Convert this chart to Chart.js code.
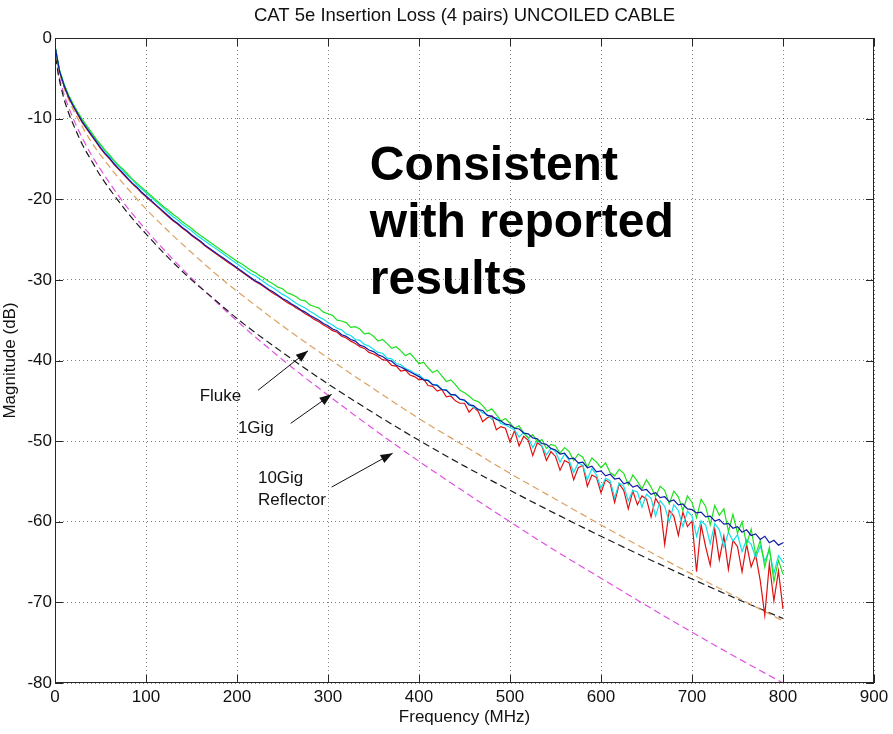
<!DOCTYPE html>
<html>
<head>
<meta charset="utf-8">
<script src="https://cdn.jsdelivr.net/npm/chart.js@4.4.1/dist/chart.umd.min.js"></script>
<style>
html,body{margin:0;padding:0;background:#fff}
</style>
</head>
<body>
<canvas id="lossChart" width="893" height="734"></canvas>
<script>
// measured frequency points (MHz)
const freqMHz=[
0,5,10,15,20,25,30,35,40,45,
50,55,60,65,70,75,80,85,90,95,
100,105,110,115,120,125,130,135,140,145,
150,155,160,165,170,175,180,185,190,195,
200,205,210,215,220,225,230,235,240,245,
250,255,260,265,270,275,280,285,290,295,
300,305,310,315,320,325,330,335,340,345,
350,355,360,365,370,375,380,385,390,395,
400,405,410,415,420,425,430,435,440,445,
450,455,460,465,470,475,480,485,490,495,
500,505,510,515,520,525,530,535,540,545,
550,555,560,565,570,575,580,585,590,595,
600,605,610,615,620,625,630,635,640,645,
650,655,660,665,670,675,680,685,690,695,
700,705,710,715,720,725,730,735,740,745,
750,755,760,765,770,775,780,785,790,795,
800]

const pairBlue=[
-1.0,-4.1,-5.9,-7.3,-8.4,-9.4,-10.4,-11.2,-12.0,-12.8,
-13.6,-14.3,-14.9,-15.6,-16.2,-16.8,-17.4,-18.0,-18.5,-19.1,
-19.6,-20.1,-20.6,-21.1,-21.6,-22.1,-22.6,-23.0,-23.5,-23.9,
-24.4,-24.8,-25.2,-25.7,-26.1,-26.5,-26.9,-27.3,-27.7,-28.1,
-28.5,-28.9,-29.3,-29.7,-30.1,-30.4,-30.8,-31.2,-31.5,-31.9,
-32.3,-32.6,-33.0,-33.3,-33.7,-34.0,-34.4,-34.7,-35.0,-35.4,
-35.7,-36.1,-36.3,-36.8,-37.0,-37.4,-37.6,-38.1,-38.3,-38.7,
-38.9,-39.3,-39.5,-39.9,-40.1,-40.6,-40.8,-41.1,-41.4,-41.7,
-42.0,-42.4,-42.5,-43.0,-43.1,-43.6,-43.7,-44.2,-44.3,-44.8,
-44.9,-45.5,-45.6,-46.1,-46.2,-46.8,-46.9,-47.3,-47.5,-47.9,
-48.0,-48.4,-48.5,-49.0,-49.1,-49.6,-49.7,-50.3,-50.4,-50.9,
-51.1,-51.6,-51.5,-52.2,-52.1,-52.7,-52.6,-53.3,-53.1,-53.8,
-53.7,-54.3,-54.1,-54.7,-54.6,-55.3,-55.1,-55.7,-55.5,-56.1,
-56.0,-56.6,-56.4,-57.0,-56.9,-57.5,-57.3,-57.9,-57.8,-58.4,
-58.5,-58.9,-58.8,-59.4,-59.3,-59.9,-59.7,-60.3,-60.2,-60.8,
-60.6,-61.3,-61.0,-61.7,-61.5,-62.2,-61.8,-62.6,-62.3,-62.9,
-62.6]

const pairGreen=[
-1.0,-4.0,-5.7,-7.1,-8.2,-9.2,-10.1,-10.9,-11.7,-12.5,
-13.2,-13.9,-14.5,-15.2,-15.8,-16.3,-16.9,-17.5,-18.0,-18.5,
-19.0,-19.5,-20.0,-20.5,-21.0,-21.4,-21.9,-22.3,-22.8,-23.2,
-23.6,-24.1,-24.5,-24.9,-25.3,-25.7,-26.1,-26.5,-26.9,-27.3,
-27.7,-28.0,-28.4,-28.8,-29.1,-29.5,-29.8,-30.2,-30.5,-30.9,
-31.1,-31.6,-31.8,-32.1,-32.5,-32.6,-33.1,-33.3,-33.5,-34.0,
-34.2,-34.4,-35.0,-35.1,-35.3,-35.9,-35.8,-36.1,-36.7,-36.6,
-37.0,-37.6,-37.4,-37.9,-38.5,-38.3,-38.8,-39.4,-39.1,-39.7,
-40.4,-40.2,-40.9,-41.5,-41.2,-41.9,-42.6,-42.4,-43.0,-43.7,
-44.0,-44.4,-44.9,-45.1,-45.6,-46.3,-46.0,-46.7,-47.5,-47.2,
-47.8,-48.4,-48.1,-49.0,-49.6,-49.2,-50.1,-49.8,-50.9,-50.4,
-50.6,-51.5,-50.8,-51.3,-52.4,-51.6,-52.0,-53.2,-52.1,-52.6,
-53.3,-52.7,-53.9,-54.3,-53.5,-54.0,-55.4,-54.2,-55.0,-55.9,
-54.8,-55.7,-56.9,-55.6,-56.1,-57.8,-56.2,-56.9,-58.6,-56.8,
-57.6,-59.5,-57.2,-58.1,-60.4,-58.0,-59.2,-58.4,-61.2,-59.1,
-61.4,-60.0,-62.8,-60.9,-64.1,-62.3,-65.6,-63.2,-67.4,-64.8,
-66.5]

const pairCyan=[
-1.0,-4.0,-5.8,-7.2,-8.3,-9.3,-10.2,-11.0,-11.8,-12.6,
-13.3,-14.0,-14.7,-15.3,-15.9,-16.5,-17.1,-17.6,-18.2,-18.7,
-19.2,-19.7,-20.2,-20.7,-21.2,-21.7,-22.2,-22.6,-23.1,-23.5,
-23.9,-24.4,-24.8,-25.2,-25.6,-26.0,-26.4,-26.8,-27.2,-27.6,
-28.0,-28.4,-28.8,-29.2,-29.5,-29.9,-30.3,-30.7,-31.0,-31.4,
-31.8,-32.1,-32.5,-32.9,-33.2,-33.5,-33.9,-34.2,-34.6,-34.9,
-35.3,-35.6,-36.0,-36.2,-36.7,-36.9,-37.4,-37.5,-38.0,-38.2,
-38.6,-39.0,-39.1,-39.7,-39.8,-40.4,-40.5,-41.0,-41.2,-41.6,
-41.8,-42.3,-42.4,-43.0,-43.0,-43.6,-43.6,-44.3,-44.2,-44.8,
-45.0,-45.3,-45.9,-46.0,-46.5,-46.7,-47.3,-47.1,-47.8,-48.0,
-48.3,-48.6,-49.5,-48.9,-49.6,-50.8,-49.8,-50.6,-51.7,-50.9,
-51.3,-52.6,-51.6,-52.4,-53.9,-52.7,-53.0,-54.8,-53.4,-54.2,
-55.8,-54.6,-54.9,-57.0,-55.2,-55.6,-57.4,-56.1,-56.3,-58.2,
-56.6,-57.1,-59.3,-57.4,-58.1,-60.0,-57.9,-58.6,-60.6,-58.7,
-59.3,-61.8,-59.9,-60.4,-62.7,-60.2,-61.0,-63.1,-61.3,-62.4,
-61.6,-63.7,-62.2,-62.8,-64.5,-63.0,-64.9,-63.5,-66.4,-64.2,
-65.0]

const pairRed=[
-1.0,-4.2,-6.0,-7.4,-8.5,-9.5,-10.5,-11.3,-12.1,-12.9,
-13.7,-14.4,-15.0,-15.7,-16.3,-16.9,-17.5,-18.1,-18.6,-19.2,
-19.7,-20.2,-20.7,-21.2,-21.7,-22.2,-22.7,-23.1,-23.6,-24.0,
-24.5,-24.9,-25.3,-25.8,-26.2,-26.6,-27.0,-27.4,-27.8,-28.2,
-28.6,-29.0,-29.4,-29.8,-30.2,-30.5,-30.9,-31.3,-31.7,-32.0,
-32.4,-32.8,-33.1,-33.5,-33.8,-34.2,-34.5,-34.9,-35.2,-35.6,
-35.9,-36.3,-36.5,-37.0,-37.2,-37.6,-37.9,-38.3,-38.5,-39.0,
-39.2,-39.5,-39.9,-40.0,-40.6,-40.7,-41.3,-41.2,-41.8,-42.0,
-42.4,-42.3,-43.1,-43.2,-43.8,-43.6,-44.5,-44.4,-45.0,-45.3,
-45.3,-46.4,-45.8,-46.3,-47.6,-47.1,-46.9,-48.6,-48.2,-48.4,
-50.1,-48.7,-50.6,-49.4,-49.9,-51.8,-50.2,-50.6,-52.4,-51.3,
-51.9,-53.6,-52.4,-52.7,-54.8,-53.3,-53.0,-55.6,-54.2,-54.5,
-56.4,-54.8,-55.2,-57.6,-55.3,-56.1,-58.4,-56.2,-57.9,-56.8,
-57.2,-59.4,-57.1,-58.0,-62.8,-58.6,-59.3,-61.7,-58.8,-60.6,
-59.9,-66.2,-60.4,-63.1,-65.4,-60.9,-64.7,-61.8,-65.9,-62.3,
-63.1,-66.2,-62.8,-65.6,-64.1,-67.3,-71.6,-65.2,-69.8,-66.1,
-70.8]

// model / reference curves (dashed)
const refFreqMHz=[1,3,6,10,15,20,30,40,50,65,80,100,125,150,175,200,250,300,350,400,450,500,550,600,650,700,750,800]
const flukeCurve=[-1.9,-3.3,-4.7,-6.2,-7.6,-8.9,-11.0,-12.9,-14.5,-16.7,-18.7,-21.2,-24.0,-26.6,-29.1,-31.4,-35.7,-39.7,-43.5,-47.2,-50.6,-54.0,-57.2,-60.4,-63.5,-66.5,-69.4,-72.3]
const oneGigCurve=[-2.4,-4.1,-5.8,-7.6,-9.3,-10.7,-13.2,-15.2,-17.1,-19.5,-21.7,-24.3,-27.3,-30.0,-32.4,-34.8,-39.0,-42.9,-46.5,-49.9,-53.1,-56.1,-59.0,-61.8,-64.5,-67.1,-69.6,-72.0]
const tenGigCurve=[-2.2,-3.8,-5.4,-7.0,-8.6,-10.0,-12.4,-14.5,-16.3,-18.8,-21.1,-23.8,-26.9,-29.8,-32.5,-35.1,-39.9,-44.3,-48.5,-52.5,-56.3,-60.0,-63.6,-67.0,-70.4,-73.7,-76.9,-80.0]

const xTicks=[0,900,100]
const yTicks=[-80,0,10]

const titleText="CAT 5e Insertion Loss (4 pairs) UNCOILED CABLE"
const bigNote=["Consistent","with reported","results"]
const bigNoteAt=[346,-17.6]
const noteLabels=[["Fluke"],["1Gig"],["10Gig","Reflector"]]
const noteTextAt=[[159,-44.5],[201,-48.4],[223,-54.6]]
const noteArrowFrom=[[223,-43.7],[259,-47.8],[304,-55.7]]
const noteArrowTo=[[278,-38.8],[304,-44.2],[371,-51.5]]

const FONT='"Liberation Sans", Arial, Helvetica, sans-serif'

function pts(xs,ys){
return xs.map((f,i)=>({x:f,y:ys[i]}))
}

function drawArrow(ctx,x0,y0,x1,y1){
ctx.beginPath()
ctx.moveTo(x0,y0)
ctx.lineTo(x1,y1)
ctx.stroke()
const a=Math.atan2(y1-y0,x1-x0)
const L=12,W=4.5
ctx.beginPath()
ctx.moveTo(x1,y1)
ctx.lineTo(x1-L*Math.cos(a)+W*Math.sin(a),y1-L*Math.sin(a)-W*Math.cos(a))
ctx.lineTo(x1-L*Math.cos(a)-W*Math.sin(a),y1-L*Math.sin(a)+W*Math.cos(a))
ctx.closePath()
ctx.fill()
}

const matlabFrame={
id:"matlabFrame",
afterDatasetsDraw(chart){
const {ctx,chartArea:a,scales:{x,y}}=chart
ctx.save()

// box + inward ticks
ctx.strokeStyle="#262626"
ctx.lineWidth=1
ctx.strokeRect(a.left+0.5,a.top+0.5,a.right-a.left-1,a.bottom-a.top-1)
ctx.beginPath()
x.ticks.forEach(t=>{
const px=Math.round(x.getPixelForValue(t.value))+0.5
ctx.moveTo(px,a.bottom);ctx.lineTo(px,a.bottom-8)
ctx.moveTo(px,a.top);ctx.lineTo(px,a.top+8)
})
y.ticks.forEach(t=>{
const py=Math.round(y.getPixelForValue(t.value))+0.5
ctx.moveTo(a.left,py);ctx.lineTo(a.left+8,py)
ctx.moveTo(a.right,py);ctx.lineTo(a.right-8,py)
})
ctx.stroke()

// title
ctx.fillStyle="#111"
ctx.font="18.5px "+FONT
ctx.textAlign="center"
ctx.textBaseline="middle"
ctx.fillText(titleText,(a.left+a.right)/2,16)

// big note
ctx.fillStyle="#000"
ctx.font="bold 48px "+FONT
ctx.textAlign="left"
ctx.textBaseline="alphabetic"
const bx=x.getPixelForValue(bigNoteAt[0])
const by=y.getPixelForValue(bigNoteAt[1])
bigNote.forEach((s,i)=>ctx.fillText(s,bx,by+i*57))

// arrows + labels
ctx.font="17px "+FONT
ctx.textBaseline="middle"
ctx.fillStyle="#111"
ctx.strokeStyle="#111"
noteLabels.forEach((lines,i)=>{
const tx=x.getPixelForValue(noteTextAt[i][0])
const ty=y.getPixelForValue(noteTextAt[i][1])
lines.forEach((s,j)=>ctx.fillText(s,tx,ty+j*22))
drawArrow(ctx,
x.getPixelForValue(noteArrowFrom[i][0]),y.getPixelForValue(noteArrowFrom[i][1]),
x.getPixelForValue(noteArrowTo[i][0]),y.getPixelForValue(noteArrowTo[i][1]))
})
ctx.restore()
}
}

function measured(data,color){
return {data:pts(freqMHz,data),borderColor:color,borderWidth:1.2,pointRadius:0,tension:0,fill:false}
}
function model(data,color){
return {data:pts(refFreqMHz,data),borderColor:color,borderWidth:1.2,borderDash:[7,4],pointRadius:0,cubicInterpolationMode:"monotone",fill:false}
}

new Chart(document.getElementById("lossChart"),{
type:"line",
data:{
datasets:[
measured(pairBlue,"#101aa8"),
measured(pairGreen,"#1ee01e"),
measured(pairCyan,"#10e0e8"),
measured(pairRed,"#e01010"),
model(flukeCurve,"#dca060"),
model(oneGigCurve,"#1a1a1a"),
model(tenGigCurve,"#e050e0")
]
},
options:{
responsive:false,
animation:false,
layout:{padding:{top:38,right:19,left:0,bottom:0}},
plugins:{legend:{display:false},tooltip:{enabled:false},title:{display:false}},
scales:{
x:{
type:"linear",min:xTicks[0],max:xTicks[1],
ticks:{stepSize:xTicks[2],padding:4,color:"#111",font:{family:FONT,size:17},maxRotation:0},
grid:{color:"rgba(0,0,0,0.5)",drawTicks:false},
border:{display:false,dash:[1,3]},
title:{display:true,text:"Frequency (MHz)",color:"#111",font:{family:FONT,size:17},padding:{top:0,bottom:6}},
afterFit(s){s.height=51}
},
y:{
type:"linear",min:yTicks[0],max:yTicks[1],
ticks:{stepSize:yTicks[2],padding:3,color:"#111",font:{family:FONT,size:17}},
grid:{color:"rgba(0,0,0,0.5)",drawTicks:false},
border:{display:false,dash:[1,3]},
title:{display:true,text:"Magnitude (dB)",color:"#111",font:{family:FONT,size:17},padding:{top:0,bottom:0}},
afterFit(s){s.width=55}
}
}
},
plugins:[matlabFrame]
})
</script>
</body>
</html>
